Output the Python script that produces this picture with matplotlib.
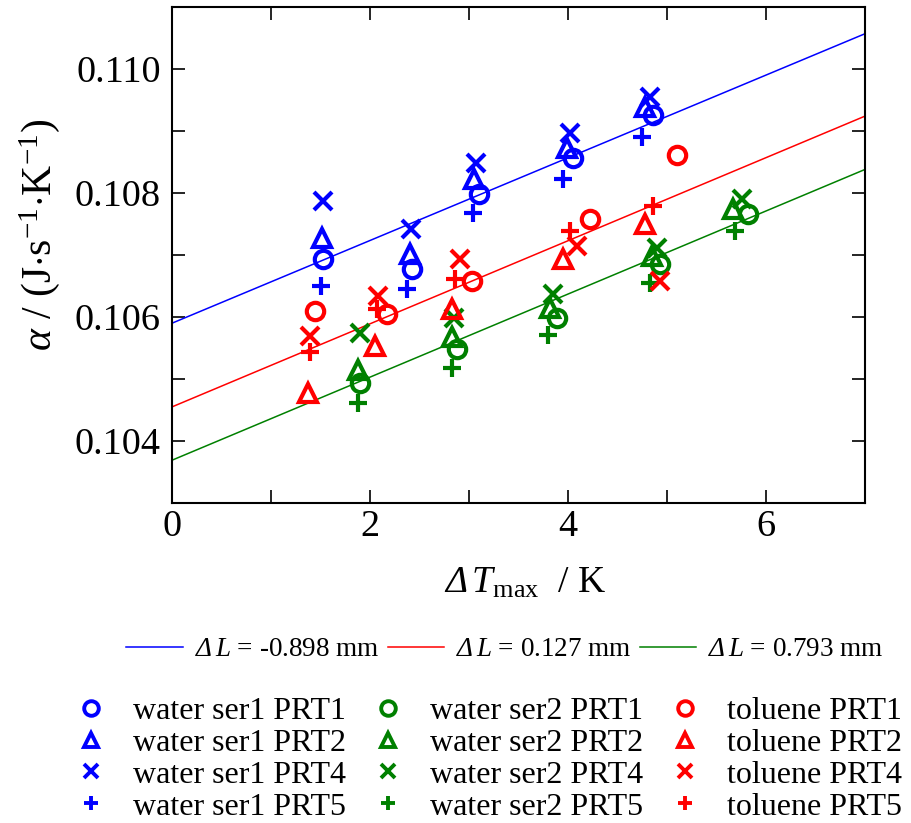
import matplotlib
matplotlib.use("Agg")
import matplotlib.pyplot as plt
from matplotlib.lines import Line2D
from matplotlib.ticker import MultipleLocator, FormatStrFormatter
import numpy as np

plt.rcParams['font.family'] = ['Liberation Serif', 'DejaVu Serif']
plt.rcParams['mathtext.fontset'] = 'custom'
plt.rcParams['mathtext.rm'] = 'Liberation Serif'
plt.rcParams['mathtext.it'] = 'Liberation Serif:italic'
plt.rcParams['mathtext.bf'] = 'Liberation Serif:bold'
# slanted slot used for the italic capital Delta
plt.rcParams['mathtext.sf'] = 'Liberation Serif:italic'

# ---- measured data: alpha vs maximum temperature rise ----
ser1_prt1_x = [1.53, 2.42, 3.10, 4.05, 4.86]
ser1_prt1_y = [0.10693, 0.10677, 0.10798, 0.10856, 0.10926]
ser1_prt2_x = [1.52, 2.40, 3.05, 3.99, 4.78]
ser1_prt2_y = [0.10727, 0.10701, 0.10822, 0.10872, 0.10939]
ser1_prt4_x = [1.53, 2.41, 3.07, 4.02, 4.83]
ser1_prt4_y = [0.10787, 0.10742, 0.10848, 0.10896, 0.10955]
ser1_prt5_x = [1.51, 2.37, 3.04, 3.95, 4.75]
ser1_prt5_y = [0.10650, 0.10645, 0.10767, 0.10823, 0.10891]

ser2_prt1_x = [1.90, 2.88, 3.89, 4.93, 5.82]
ser2_prt1_y = [0.10493, 0.10549, 0.10599, 0.10685, 0.10766]
ser2_prt2_x = [1.88, 2.83, 3.82, 4.85, 5.67]
ser2_prt2_y = [0.10514, 0.10567, 0.10615, 0.10698, 0.10775]
ser2_prt4_x = [1.90, 2.85, 3.85, 4.90, 5.76]
ser2_prt4_y = [0.10575, 0.10599, 0.10637, 0.10711, 0.10791]
ser2_prt5_x = [1.88, 2.83, 3.80, 4.83, 5.69]
ser2_prt5_y = [0.10461, 0.10518, 0.10571, 0.10655, 0.10738]

tol_prt1_x = [1.44, 2.17, 3.03, 4.22, 5.10]
tol_prt1_y = [0.10610, 0.10605, 0.10658, 0.10758, 0.10862]
tol_prt2_x = [1.37, 2.05, 2.83, 3.95, 4.78]
tol_prt2_y = [0.10478, 0.10554, 0.10613, 0.10693, 0.10750]
tol_prt4_x = [1.39, 2.08, 2.91, 4.09, 4.93]
tol_prt4_y = [0.10570, 0.10634, 0.10693, 0.10714, 0.10658]
tol_prt5_x = [1.39, 2.07, 2.86, 4.02, 4.86]
tol_prt5_y = [0.10543, 0.10613, 0.10661, 0.10738, 0.10779]

# ---- linear fits: alpha = a0 + slope * dTmax ----
fit_labels = ['-0.898', '0.127', '0.793']
fit_intercepts = [0.10590, 0.10455, 0.10369]
fit_slopes = [0.000667, 0.000670, 0.000670]
fit_colors = ['#0000ff', '#ff0000', '#008000']

x_limits = [0, 7]
y_limits = [0.103, 0.111]

series_names = ['water ser1', 'water ser2', 'toluene']
sensor_names = ['PRT1', 'PRT2', 'PRT4', 'PRT5']
series_colors = ['#0000ff', '#008000', '#ff0000']
sensor_markers = ['o', '^', 'x', '+']

series_data = [
    [(ser1_prt1_x, ser1_prt1_y), (ser1_prt2_x, ser1_prt2_y),
     (ser1_prt4_x, ser1_prt4_y), (ser1_prt5_x, ser1_prt5_y)],
    [(ser2_prt1_x, ser2_prt1_y), (ser2_prt2_x, ser2_prt2_y),
     (ser2_prt4_x, ser2_prt4_y), (ser2_prt5_x, ser2_prt5_y)],
    [(tol_prt1_x, tol_prt1_y), (tol_prt2_x, tol_prt2_y),
     (tol_prt4_x, tol_prt4_y), (tol_prt5_x, tol_prt5_y)],
]

W, H = 911, 823
fig = plt.figure(figsize=(W / 100, H / 100), dpi=100)
ax = fig.add_axes([172 / W, 1 - 503 / H, (865 - 172) / W, (503 - 7) / H])

# fit lines
line_handles = []
xx = np.array(x_limits, dtype=float)
for lab, a0, k, c in zip(fit_labels, fit_intercepts, fit_slopes, fit_colors):
    ax.plot(xx, a0 + k * xx, color=c, lw=1.1, zorder=2)
    line_handles.append(Line2D([], [], color=c, lw=1.1,
                               label=r'$\mathsf{Δ}\,\mathit{L}$ = ' + lab + ' mm'))

# data points
marker_handles = []
for name, col, groups in zip(series_names, series_colors, series_data):
    for sensor, mk, (xs, ys) in zip(sensor_names, sensor_markers, groups):
        ax.plot(xs, ys, linestyle='none', marker=mk, ms=12.5,
                mfc='none', mec=col, mew=3.0, zorder=3)
        marker_handles.append(Line2D([], [], linestyle='none', marker=mk,
                                     ms=10.5, mfc='none', mec=col, mew=2.8,
                                     label=f'{name} {sensor}'))

ax.set_xlim(*x_limits)
ax.set_ylim(*y_limits)
ax.xaxis.set_major_locator(MultipleLocator(2))
ax.xaxis.set_minor_locator(MultipleLocator(1))
ax.yaxis.set_major_locator(MultipleLocator(0.002))
ax.yaxis.set_minor_locator(MultipleLocator(0.001))
ax.yaxis.set_major_formatter(FormatStrFormatter('%.3f'))
ax.xaxis.set_major_formatter(FormatStrFormatter('%d'))

for s in ax.spines.values():
    s.set_linewidth(1.5)
ax.tick_params(which='both', direction='in', top=True, right=True,
               length=9.5, width=1.2)
ax.tick_params(axis='x', which='major', labelsize=27.5, pad=5)
ax.tick_params(axis='y', which='major', labelsize=27.5, pad=8)

fig.text(525 / W, 1 - 593 / H, r'$\mathsf{Δ}\,\mathit{T}_{\mathrm{max}}$  / K',
         ha='center', va='baseline', fontsize=27)
fig.text(40 / W, 1 - 235 / H,
         r'$\mathit{α}$ / (J$\cdot$s$^{\mathrm{-1}}$$\cdot$K$^{\mathrm{-1}}$)',
         rotation=90, ha='center', va='center', fontsize=30)

fig.legend(handles=line_handles, loc='center',
           bbox_to_anchor=(505 / W, 1 - 650 / H), ncol=3, frameon=False,
           fontsize=19.5, handlelength=2.07, handletextpad=0.45,
           columnspacing=0.3, borderpad=0, borderaxespad=0)

fig.legend(handles=marker_handles, loc='center',
           bbox_to_anchor=(490 / W, 1 - 759 / H), ncol=3, frameon=False,
           fontsize=23, handlelength=0.8, handletextpad=0.92,
           columnspacing=0.9, labelspacing=0.08, borderpad=0,
           borderaxespad=0)

fig.savefig('out.png', dpi=100)
